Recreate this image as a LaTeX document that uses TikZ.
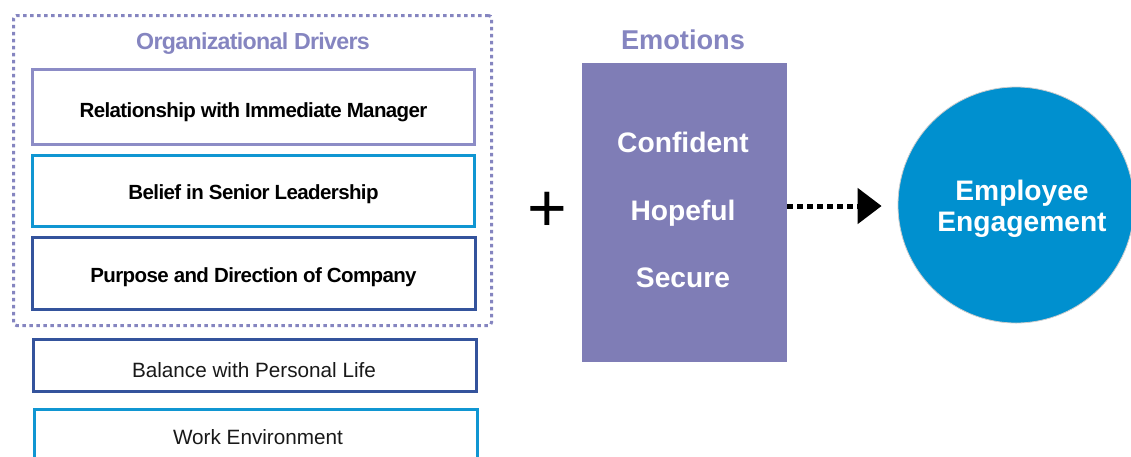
\documentclass[tikz,border=0pt]{standalone}
\usepackage{fontspec}
\setmainfont{Liberation Sans}
\newfontfamily\tightfont{Liberation Sans}[LetterSpace=-3]
\usetikzlibrary{arrows.meta}
\definecolor{lav}{HTML}{8585C0}
\definecolor{lavbox}{HTML}{8C8CC6}
\definecolor{cyanbox}{HTML}{1096D2}
\definecolor{navybox}{HTML}{34539C}
\definecolor{emofill}{HTML}{7F7DB6}
\definecolor{circfill}{HTML}{0090CF}
\tikzset{
  drvbox/.style={draw, line width=3pt, rectangle, inner sep=0pt, fill=white},
  boldtxt/.style={font=\tightfont\bfseries\fontsize{20.5}{22}\selectfont, text=black, inner sep=0pt, anchor=base},
  regtxt/.style={font=\fontsize{20.7}{22}\selectfont, text=black!90, inner sep=0pt, anchor=base},
  titletxt/.style={font=\tightfont\bfseries\fontsize{23.2}{25}\selectfont, text=lav, inner sep=0pt, anchor=base},
  emotxt/.style={font=\bfseries\fontsize{28.2}{30}\selectfont, text=white, inner sep=0pt, anchor=base},
}
\begin{document}
\begin{tikzpicture}[x=1pt,y=-1pt]
\useasboundingbox (0,0) rectangle (1131,456);
% outer dotted group
\node[draw=lav, line width=3pt, dash pattern=on 3.5pt off 3.5pt, rounded corners=3pt,
      minimum width=478pt, minimum height=310pt, inner sep=0pt] (grp) at (252.5,170.5) {};
\node[titletxt] (orgt) at (253,49) {Organizational Drivers};
% driver boxes
\node[drvbox, draw=lavbox, minimum width=442pt, minimum height=75pt] (b1) at (253.5,107) {};
\node[boldtxt] (t1) at (253.5,117) {Relationship with Immediate Manager};
\node[drvbox, draw=cyanbox, minimum width=442pt, minimum height=71pt] (b2) at (253.5,191) {};
\node[boldtxt] (t2) at (253.5,199) {Belief in Senior Leadership};
\node[drvbox, draw=navybox, minimum width=443pt, minimum height=72pt] (b3) at (253.5,273.5) {};
\node[boldtxt] (t3) at (253.5,282) {Purpose and Direction of Company};
\node[drvbox, draw=navybox, minimum width=443pt, minimum height=52pt] (b4) at (255,365.5) {};
\node[regtxt] (t4) at (254,377) {Balance with Personal Life};
\node[drvbox, draw=cyanbox, minimum width=443pt, minimum height=80pt] (b5) at (256,449.5) {};
\node[regtxt] (t5) at (258,444) {Work Environment};
% plus
\node[font=\fontsize{68}{68}\selectfont, inner sep=0pt] (plus) at (547,212) {+};
% emotions
\node[font=\bfseries\fontsize{27.2}{29}\selectfont, text=lav, inner sep=0pt, anchor=base] (emot) at (683,49) {Emotions};
\node[rectangle, fill=emofill, minimum width=205pt, minimum height=299pt, inner sep=0pt] (emo) at (684.5,212.5) {};
\node[emotxt] (e1) at (683,152) {Confident};
\node[emotxt] (e2) at (683,220) {Hopeful};
\node[emotxt] (e3) at (683,287) {Secure};
% circle
\node[circle, fill=circfill, draw=black!20, line width=0.8pt, minimum size=236pt, inner sep=0pt] (eng) at (1016,205) {};
\node[emotxt] (c1) at (1022,200) {Employee};
\node[emotxt] (c2) at (1022,231) {Engagement};
% arrow
\draw[line width=5pt, dash pattern=on 6pt off 4pt, -{Triangle[length=24pt,width=35pt]}, shorten >=16pt]
  (emo.east |- 0,206) -- (eng.west |- 0,206);
\end{tikzpicture}
\end{document}
